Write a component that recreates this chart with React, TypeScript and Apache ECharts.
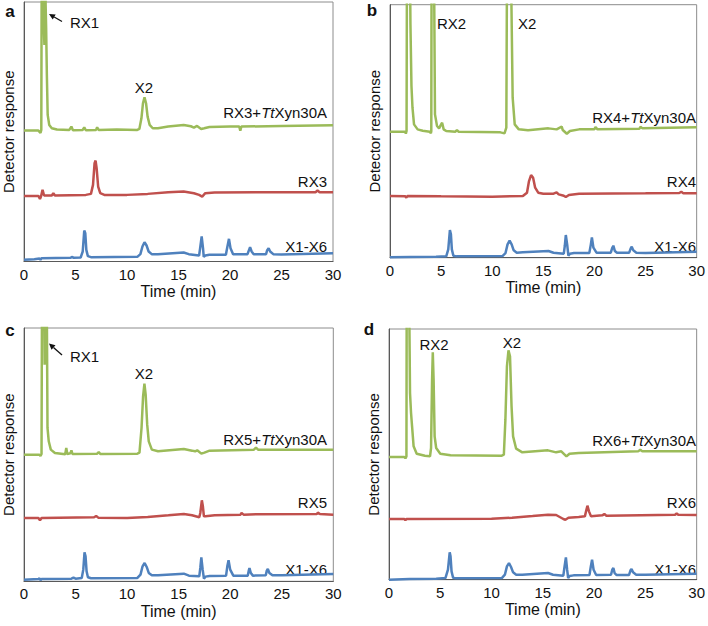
import React, { useEffect, useRef } from "react";
import * as echarts from "echarts";

// Time ticks (min)
const timeTicks = [0, 5, 10, 15, 20, 25, 30];

// Panel a: [time (min), detector response (a.u.)]
const aGreen = [[0,393],[1.4,393],[1.6,386],[1.68,395],[1.72,900],[1.85,900],[1.93,700],[1.98,650],[2.05,900],[2.1,770],[2.15,700],[2.22,560],[2.3,440],[2.45,410],[2.7,400],[3.2,396],[4.4,395],[4.6,405],[4.75,394],[5.7,395],[5.85,403],[6.0,394],[7.0,395],[7.1,403],[7.25,395],[9,396],[11.0,395],[11.2,398],[11.4,430],[11.55,475],[11.7,493],[11.85,475],[12.0,435],[12.2,410],[12.5,400],[13,400],[14,405],[15.5,410],[16.2,406],[16.5,402],[16.8,407],[17.2,398],[17.5,400],[18,404],[20,405],[20.9,405],[21.0,393],[21.1,405],[25,407],[30,409]];
const aRed = [[0,197],[1.4,197],[1.55,188],[1.65,195],[1.8,215],[1.95,198],[2.7,198],[2.85,205],[3.0,198],[6.0,200],[6.5,203],[6.7,230],[6.85,295],[6.95,303],[7.05,280],[7.2,225],[7.4,205],[7.8,200],[10,200],[12,203],[14,208],[15.5,210],[16.5,205],[17.0,200],[17.3,195],[17.6,205],[18.5,207],[25,208],[28.3,208],[28.5,213],[28.7,208],[30,208]];
const aBlue = [[0,5],[1,7],[1.5,9],[1.6,5],[1.7,10],[4.5,11],[4.7,14],[4.8,11],[5.5,12],[5.7,30],[5.85,93],[5.95,85],[6.05,35],[6.2,16],[6.5,13],[11,14],[11.3,22],[11.5,45],[11.7,58],[11.9,48],[12.1,30],[12.4,22],[13,22],[15.5,27],[16.0,22],[17.0,18],[17.1,40],[17.25,75],[17.38,40],[17.45,14],[17.6,18],[18,20],[19.6,20],[19.75,45],[19.9,68],[20.05,40],[20.3,22],[21.7,22],[21.85,35],[21.95,43],[22.1,30],[22.3,22],[23.5,22],[23.6,33],[23.75,40],[23.9,30],[24.2,22],[25,21],[30,25]];

// Panel b
const bGreen = [[0,378],[1.5,378],[1.55,372],[1.62,380],[1.66,900],[1.95,900],[2.0,700],[2.1,515],[2.2,450],[2.35,400],[2.7,385],[3.2,381],[3.9,378],[4.0,373],[4.04,380],[4.07,900],[4.3,900],[4.4,430],[4.6,395],[4.8,388],[5.0,400],[5.1,405],[5.25,385],[5.5,380],[6.4,378],[6.55,383],[6.7,378],[10.8,376],[11.2,373],[11.38,390],[11.45,900],[11.82,900],[12.0,480],[12.2,400],[12.6,385],[13.5,382],[15.5,388],[16.3,385],[16.8,393],[16.9,383],[17.3,372],[17.6,380],[18.5,385],[20,385],[20.1,392],[20.3,385],[24.4,387],[24.5,393],[24.7,388],[30,391]];
const bRed = [[0,185],[1.5,184],[1.6,180],[1.7,185],[5,184],[10,183],[13.0,185],[13.4,195],[13.6,230],[13.8,248],[14.0,240],[14.2,210],[14.5,195],[15,192],[16,192],[16.3,196],[16.5,190],[17.0,186],[17.2,182],[17.5,188],[18.5,192],[25,193],[28.3,194],[28.5,198],[28.7,193],[30,193]];
const bBlue = [[0,1],[2,2],[4.5,3],[5.5,4],[5.7,25],[5.86,83],[5.96,70],[6.05,25],[6.2,6],[6.5,4],[11,5],[11.3,14],[11.5,40],[11.7,51],[11.9,40],[12.1,22],[12.4,15],[13,16],[15.5,20],[16.0,15],[17.0,12],[17.1,35],[17.2,68],[17.35,35],[17.45,6],[17.6,12],[18,14],[19.5,14],[19.65,40],[19.75,61],[19.9,30],[20.2,15],[21.6,15],[21.75,30],[21.85,36],[22.0,20],[22.2,15],[23.4,15],[23.55,28],[23.65,33],[23.8,22],[24.1,15],[25,14],[30,18]];

// Panel c
const cGreen = [[0,380],[1.5,380],[1.6,376],[1.7,382],[1.75,900],[1.95,900],[2.0,650],[2.05,900],[2.2,900],[2.28,460],[2.4,420],[2.6,395],[3.0,385],[4.0,381],[4.1,400],[4.2,382],[4.5,384],[4.6,393],[4.7,382],[7.1,383],[7.25,388],[7.4,382],[11.0,383],[11.2,386],[11.4,460],[11.55,555],[11.68,593],[11.8,560],[11.95,470],[12.1,420],[12.4,395],[13,390],[15.5,397],[16.3,392],[16.6,390],[16.8,393],[17.2,383],[17.5,386],[18,392],[22.3,395],[22.5,401],[22.7,395],[30,395]];
const cRed = [[0,190],[1.4,190],[1.55,183],[1.7,190],[6.8,192],[7.0,196],[7.2,191],[10,190],[12,193],[14,198],[15.5,202],[16.3,198],[17.0,192],[17.1,205],[17.25,243],[17.35,225],[17.45,195],[17.6,195],[18.5,198],[21,200],[21.1,205],[21.3,200],[22.5,201],[28.4,202],[28.5,206],[28.7,202],[30,200]];
const cBlue = [[0,5],[1.4,7],[1.5,9],[1.6,3],[1.7,7],[4.6,8],[4.8,11],[5.0,8],[5.6,10],[5.75,35],[5.87,87],[5.97,75],[6.07,30],[6.2,12],[6.5,9],[11,10],[11.3,20],[11.5,45],[11.7,55],[11.9,43],[12.1,25],[12.4,18],[13,18],[15.5,23],[16.0,17],[17.0,15],[17.1,40],[17.2,72],[17.33,35],[17.45,8],[17.6,14],[18,16],[19.6,17],[19.72,45],[19.84,63],[20.0,35],[20.3,17],[21.7,17],[21.8,32],[21.87,40],[22.0,25],[22.2,17],[23.45,18],[23.55,32],[23.65,37],[23.8,25],[24.1,18],[25,18],[30,22]];

// Panel d
const dGreen = [[0,368],[1.5,368],[1.6,364],[1.7,370],[1.73,900],[1.95,900],[2.05,560],[2.15,500],[2.25,460],[2.4,400],[2.7,378],[3.5,372],[4.0,370],[4.1,395],[4.2,600],[4.27,682],[4.35,600],[4.45,430],[4.6,395],[5.0,378],[6,373],[11.0,372],[11.2,375],[11.35,480],[11.5,640],[11.65,688],[11.8,670],[11.95,520],[12.1,430],[12.4,393],[13,382],[15.5,388],[16.3,382],[16.8,385],[17.3,370],[17.6,378],[18.5,380],[24.3,385],[24.5,390],[24.7,385],[30,385]];
const dRed = [[0,182],[1.5,182],[1.6,178],[1.7,182],[10,183],[12,186],[14,191],[15.5,195],[16.3,194],[17.0,182],[17.2,180],[17.5,186],[18.5,188],[19.1,190],[19.25,210],[19.35,222],[19.5,205],[19.7,190],[20.8,193],[21.0,197],[21.2,192],[27.9,195],[28.05,199],[28.2,195],[30,194]];
const dBlue = [[0,0],[2,2],[4.6,3],[5.5,5],[5.75,30],[5.92,82],[6.0,70],[6.1,25],[6.25,6],[6.5,4],[11,5],[11.3,15],[11.5,40],[11.7,50],[11.9,38],[12.1,22],[12.4,15],[13,15],[15.5,20],[16,15],[17.0,12],[17.1,35],[17.25,67],[17.37,30],[17.47,5],[17.6,11],[18,13],[19.55,14],[19.68,40],[19.8,60],[19.95,30],[20.2,14],[21.65,15],[21.77,30],[21.88,35],[22.0,20],[22.2,14],[23.4,14],[23.55,28],[23.65,32],[23.8,22],[24.1,15],[25,15],[30,18]];

const yMaxes = [779, 759, 760, 752];
const panelLetters = ["a", "b", "c", "d"];
const traceLabels = [
  ["RX3", "RX3", "X1-X6"],
  ["RX4", "RX4", "X1-X6"],
  ["RX5", "RX5", "X1-X6"],
  ["RX6", "RX6", "X1-X6"],
];

const GREEN = "#9BBB59";
const RED = "#C0504D";
const BLUE = "#4F81BD";
const FONT = "'Liberation Sans', Arial, sans-serif";

export default function App() {
  const ref = useRef<HTMLDivElement>(null);
  useEffect(() => {
    if (!ref.current) return;
    const chart = echarts.init(ref.current, undefined, { renderer: "svg" });
    const grids = [
      { left: 23, top: 2, width: 310, height: 259.5 },
      { left: 390, top: 4.7, width: 310.5, height: 253 },
      { left: 23.3, top: 328, width: 310, height: 253.3 },
      { left: 389, top: 329, width: 311.5, height: 250.7 },
    ].map((g) => ({ ...g, show: true, borderColor: "#8c8c8c", borderWidth: 1, containLabel: false }));

    const xAxis = grids.map((_, i) => ({
      type: "value",
      gridIndex: i,
      min: timeTicks[0],
      max: timeTicks[timeTicks.length - 1],
      interval: 5,
      name: "Time (min)",
      nameLocation: "middle",
      nameGap: 22,
      nameTextStyle: { fontSize: 16, color: "#111", fontFamily: FONT },
      axisLine: { show: true, lineStyle: { color: "#595959", width: 1 } },
      axisTick: { show: false },
      splitLine: { show: false },
      axisLabel: { fontSize: 15, color: "#111", fontFamily: FONT, margin: 5 },
    }));
    const yAxis = grids.map((_, i) => ({
      type: "value",
      gridIndex: i,
      min: 0,
      max: yMaxes[i],
      name: "Detector response",
      nameLocation: "middle",
      nameRotate: 90,
      nameGap: 8,
      nameTextStyle: { fontSize: 15, color: "#111", fontFamily: FONT },
      axisLine: { show: true, lineStyle: { color: "#595959", width: 1 } },
      axisTick: { show: false },
      axisLabel: { show: false },
      splitLine: { show: false },
    }));
    const sets = [
      [aGreen, aRed, aBlue],
      [bGreen, bRed, bBlue],
      [cGreen, cRed, cBlue],
      [dGreen, dRed, dBlue],
    ];
    const colors = [GREEN, RED, BLUE];
    const series: any[] = [];
    sets.forEach((set, i) => {
      set.forEach((data, j) => {
        series.push({
          type: "line",
          xAxisIndex: i,
          yAxisIndex: i,
          data,
          showSymbol: false,
          clip: true,
          lineStyle: { color: colors[j], width: 2.5 },
          itemStyle: { color: colors[j] },
        });
      });
    });

    const txt = (x: number, y: number, text: string, align: string, extra: any = {}) => ({
      type: "text",
      x,
      y,
      style: {
        text,
        align,
        verticalAlign: "middle",
        fontSize: 15,
        fontFamily: FONT,
        fill: "#111",
        rich: { i: { fontStyle: "italic", fontSize: 15, fontFamily: FONT, fill: "#111" } },
        ...extra,
      },
    });
    const arrow = (x1: number, y1: number, x2: number, y2: number) => {
      const ang = Math.atan2(y2 - y1, x2 - x1);
      const L = 6, W = 3;
      const bx = x2 - L * Math.cos(ang), by = y2 - L * Math.sin(ang);
      const px = -Math.sin(ang) * W, py = Math.cos(ang) * W;
      return [
        { type: "line", shape: { x1, y1, x2: bx, y2: by }, style: { stroke: "#111", lineWidth: 1.3 } },
        { type: "polygon", shape: { points: [[x2, y2], [bx + px, by + py], [bx - px, by - py]] }, style: { fill: "#111" } },
      ];
    };
    const graphic: any[] = [
      txt(10, 11, panelLetters[0], "center", { fontWeight: "bold", fontSize: 17 }),
      txt(372, 10, panelLetters[1], "center", { fontWeight: "bold", fontSize: 17 }),
      txt(10, 330, panelLetters[2], "center", { fontWeight: "bold", fontSize: 17 }),
      txt(369, 329, panelLetters[3], "center", { fontWeight: "bold", fontSize: 17 }),
      // panel a
      txt(70, 22, "RX1", "left"),
      ...arrow(62, 21.5, 49, 14),
      txt(144, 87, "X2", "center"),
      txt(327, 112, traceLabels[0][0] + "+{i|Tt}Xyn30A", "right"),
      txt(327, 181, traceLabels[0][1], "right"),
      txt(327, 246, traceLabels[0][2], "right"),
      // panel b
      txt(437, 23, "RX2", "left"),
      txt(518, 23, "X2", "left"),
      txt(696, 117, traceLabels[1][0] + "+{i|Tt}Xyn30A", "right"),
      txt(696, 181, traceLabels[1][1], "right"),
      txt(696, 246, traceLabels[1][2], "right"),
      // panel c
      txt(70, 356, "RX1", "left"),
      ...arrow(62, 355, 49, 343.5),
      txt(144, 373, "X2", "center"),
      txt(327, 439, traceLabels[2][0] + "+{i|Tt}Xyn30A", "right"),
      txt(327, 502, traceLabels[2][1], "right"),
      txt(327, 569, traceLabels[2][2], "right"),
      // panel d
      txt(434, 344, "RX2", "center"),
      txt(512, 342, "X2", "center"),
      txt(696, 440, traceLabels[3][0] + "+{i|Tt}Xyn30A", "right"),
      txt(696, 502, traceLabels[3][1], "right"),
      txt(696, 569, traceLabels[3][2], "right"),
    ];

    chart.setOption({
      animation: false,
      backgroundColor: "#ffffff",
      grid: grids,
      xAxis,
      yAxis,
      series,
      graphic,
    });
    return () => chart.dispose();
  }, []);
  return (
    <div
      ref={ref}
      style={{ position: "fixed", left: 0, top: 0, width: 708, height: 626, background: "#fff" }}
    />
  );
}
